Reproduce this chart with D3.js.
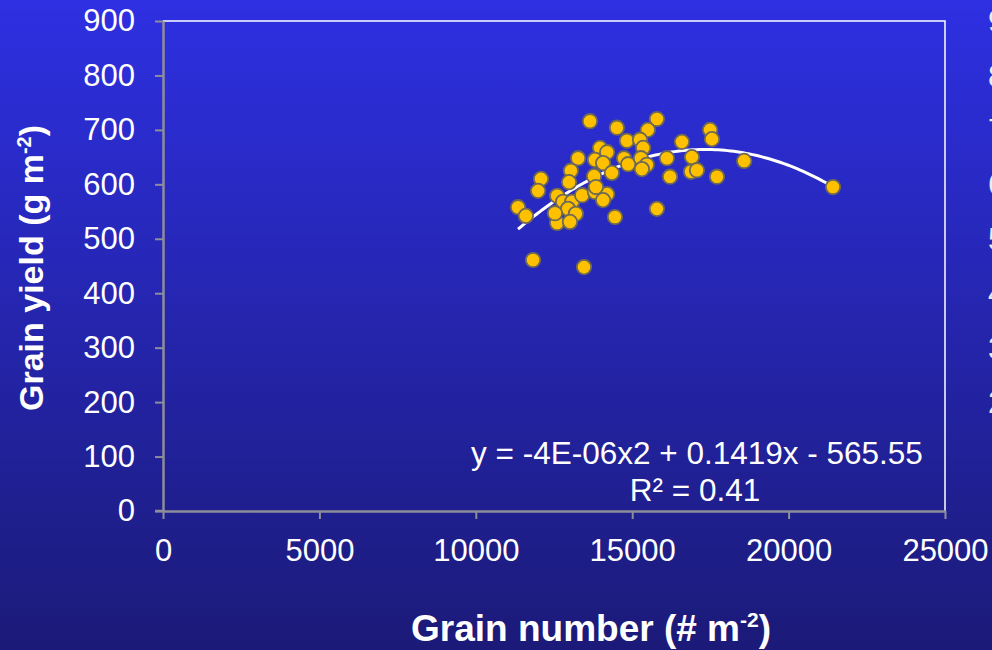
<!DOCTYPE html>
<html>
<head>
<meta charset="utf-8">
<title>Grain yield vs grain number</title>
<script src="https://d3js.org/d3.v7.min.js"></script>
<style>
  body {margin:0; padding:0; overflow:hidden; background:#1b1b7a;}
  svg text {font-family:'Liberation Sans', Arial, sans-serif; fill:#fff;}
</style>
</head>
<body>
<svg id="chart"></svg>
<script>
// grain number (# m-2) and grain yield (g m-2)
var grainNumber=[11350,11600,11830,12085,11990,12600,12790,13080,13400,12950,
  13200,12600,13010,12530,13810,14200,14070,14450,13460,13650,
  13270,13970,14200,13810,14070,13040,12980,13780,14350,13840,
  14510,15790,15500,14830,15250,15350,16590,17490,17550,14740,
  14870,15280,15470,15310,16110,16910,16210,16880,17070,17710,
  15790,18580,21420];
var grainYield=[558,542,461,610,588,579,568,568,580,555,
  546,529,531,547,586,582,571,540,448,716,
  648,667,659,645,639,625,604,615,621,595,
  704,720,700,680,682,667,678,700,683,648,
  637,648,636,628,648,650,614,623,626,614,
  555,643,595];
// polynomial trend (order 2) as fitted in the original
var trendCoef=[-4.094e-6,0.1419,-565.55];
var trendRange=[11350,21420];
var xTicks=[0,5000,10000,15000,20000,25000];
var yTicks=[0,100,200,300,400,500,600,700,800,900];
// labels of the next chart, cut off at the right edge
var ghostTicks=[200,300,400,500,600,700,800,900];

var W=992,H=650;
var margin={top:21,right:47,bottom:139,left:163};
var svg=d3.select('#chart').attr('width',W).attr('height',H);

var defs=svg.append('defs');
var grad=defs.append('linearGradient').attr('id','bg')
  .attr('x1',0).attr('y1',0).attr('x2',0).attr('y2',1);
grad.append('stop').attr('offset','0%').attr('stop-color','#2e30e2');
grad.append('stop').attr('offset','100%').attr('stop-color','#1b1a78');
svg.append('rect').attr('width',W).attr('height',H).attr('fill','url(#bg)');

var x=d3.scaleLinear().domain([0,25000]).range([margin.left,W-margin.right]);
var y=d3.scaleLinear().domain([0,900]).range([H-margin.bottom,margin.top]);

svg.append('g').selectAll('text').data(ghostTicks).join('text')
  .attr('x',988).attr('y',d=>y(d)).attr('dy','0.36em')
  .attr('font-size',31).attr('opacity',0.9).text(d=>d);

// frame: white top/right
svg.append('path')
  .attr('d',`M${x(0)},${y(900)}H${x(25000)}V${y(0)}`)
  .attr('fill','none').attr('stroke','#fff').attr('stroke-width',1.5);

var axisCol='#8e8e9a';
var fmt=d3.format('d');
var gx=svg.append('g').attr('transform',`translate(0,${y(0)})`)
  .call(d3.axisBottom(x).tickValues(xTicks).tickFormat(fmt)
    .tickSize(8).tickPadding(20).tickSizeOuter(0));
var gy=svg.append('g').attr('transform',`translate(${x(0)},0)`)
  .call(d3.axisLeft(y).tickValues(yTicks).tickFormat(fmt)
    .tickSize(8).tickPadding(20).tickSizeOuter(0));
[gx,gy].forEach(function(g){
  g.select('.domain').attr('stroke',axisCol).attr('stroke-width',2.5);
  g.selectAll('.tick line').attr('stroke',axisCol).attr('stroke-width',2);
  g.selectAll('.tick text').attr('fill','#fff').attr('font-size',31)
   .attr('font-family',"'Liberation Sans', Arial, sans-serif");
});
// bottom axis pokes out a little to the left
svg.append('line').attr('x1',x(0)-8).attr('x2',x(0))
  .attr('y1',y(0)).attr('y2',y(0)).attr('stroke',axisCol).attr('stroke-width',2.5);

// trend line
var trendX=d3.range(trendRange[0],trendRange[1]+1,100);
var line=d3.line()
  .x(d=>x(d)).y(d=>y(trendCoef[0]*d*d+trendCoef[1]*d+trendCoef[2]));
svg.append('path').datum(trendX).attr('d',line)
  .attr('fill','none').attr('stroke','#fff').attr('stroke-width',3);

// points
svg.append('g').selectAll('circle').data(grainNumber).join('circle')
  .attr('cx',d=>x(d)).attr('cy',(d,i)=>y(grainYield[i])).attr('r',7.2)
  .attr('fill','#ffc000').attr('stroke','#6e6a55').attr('stroke-width',1.8);

// equation
svg.append('text').attr('x',697).attr('y',464).attr('text-anchor','middle')
  .attr('font-size',31.5).text('y = -4E-06x2 + 0.1419x - 565.55');
svg.append('text').attr('x',695).attr('y',501).attr('text-anchor','middle')
  .attr('font-size',31.5).text('R² = 0.41');

// axis titles
var xt=svg.append('text').attr('x',591).attr('y',641).attr('text-anchor','middle')
  .attr('font-size',37).attr('font-weight','bold');
xt.append('tspan').text('Grain number (# m');
xt.append('tspan').attr('dy',-14).attr('font-size',21).text('-2');
xt.append('tspan').attr('dy',14).text(')');

var yt=svg.append('text').attr('transform','translate(43,268) rotate(-90)')
  .attr('text-anchor','middle').attr('font-size',34).attr('font-weight','bold');
yt.append('tspan').text('Grain yield (g m');
yt.append('tspan').attr('dy',-12).attr('font-size',20).text('-2');
yt.append('tspan').attr('dy',12).text(')');
</script>
</body>
</html>
